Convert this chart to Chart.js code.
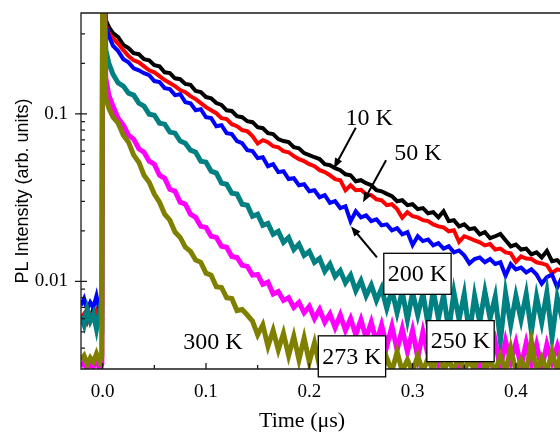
<!DOCTYPE html>
<html>
<head>
<meta charset="utf-8">
<script src="https://cdn.jsdelivr.net/npm/chart.js@4.4.1/dist/chart.umd.min.js"></script>
<style>
  html, body { margin: 0; padding: 0; background: #fff; overflow: hidden; }
  #wrap { width: 560px; height: 432px; position: relative; }
</style>
</head>
<body>
<div id="wrap"><canvas id="plChart"></canvas></div>
<script>
// time axis (µs), shared by every trace
const timeUs = [
  -0.021, -0.018, -0.015, -0.012, -0.009, -0.006, -0.003, -0.0008,
  0, 0.003, 0.006,
  0.01, 0.015, 0.02, 0.025, 0.03, 0.035, 0.04, 0.045, 0.05, 0.055,
  0.06, 0.065, 0.07, 0.075, 0.08, 0.085, 0.09, 0.095, 0.1, 0.105,
  0.11, 0.115, 0.12, 0.125, 0.13, 0.135, 0.14, 0.145, 0.15, 0.155,
  0.16, 0.165, 0.17, 0.175, 0.18, 0.185, 0.19, 0.195, 0.2, 0.205,
  0.21, 0.215, 0.22, 0.225, 0.23, 0.235, 0.24, 0.245, 0.25, 0.255,
  0.26, 0.265, 0.27, 0.275, 0.28, 0.285, 0.29, 0.295, 0.3, 0.305,
  0.31, 0.315, 0.32, 0.325, 0.33, 0.335, 0.34, 0.345, 0.35, 0.355,
  0.36, 0.365, 0.37, 0.375, 0.38, 0.385, 0.39, 0.395, 0.4, 0.405,
  0.41, 0.415, 0.42, 0.425, 0.43, 0.435, 0.44, 0.445
];

const pl10K = [
  0.0062, 0.0058, 0.0066, 0.0060, 0.0069, 0.0057, 0.0064, 0.0061,
  1.2, 0.363, 0.330,
  0.303, 0.287, 0.258, 0.247, 0.230, 0.227, 0.212, 0.209, 0.195, 0.192,
  0.177, 0.175, 0.163, 0.161, 0.151, 0.149, 0.137, 0.135, 0.126, 0.124,
  0.116, 0.113, 0.105, 0.104, 0.097, 0.0955, 0.0904, 0.0892, 0.0833, 0.0821,
  0.0767, 0.0757, 0.0707, 0.0688, 0.0678, 0.0632, 0.0623, 0.0583, 0.0567, 0.0551,
  0.0537, 0.0501, 0.0494, 0.0474, 0.0461, 0.0436, 0.043, 0.0396, 0.0402, 0.0386,
  0.0375, 0.035, 0.0345, 0.0333, 0.0323, 0.0301, 0.0305, 0.0285, 0.0289, 0.027,
  0.0274, 0.0255, 0.0259, 0.0241, 0.0262, 0.0229, 0.0232, 0.0213, 0.0219, 0.0205,
  0.0208, 0.0191, 0.0197, 0.0181, 0.0186, 0.0192, 0.0176, 0.0162, 0.0166, 0.0155,
  0.0157, 0.0145, 0.0149, 0.0139, 0.0152, 0.0132, 0.0134, 0.0125
];

const pl50K = [
  0.0060, 0.0064, 0.0057, 0.0063, 0.0059, 0.0066, 0.0058, 0.0062,
  1.2, 0.339, 0.303,
  0.283, 0.262, 0.240, 0.221, 0.209, 0.203, 0.192, 0.182, 0.177, 0.168,
  0.159, 0.153, 0.1465, 0.1386, 0.1348, 0.1276, 0.1225, 0.1158, 0.1097, 0.1052,
  0.1009, 0.0943, 0.093, 0.0868, 0.0844, 0.0799, 0.0788, 0.0736, 0.0665, 0.0697,
  0.0678, 0.0641, 0.0632, 0.0599, 0.059, 0.0559, 0.0537, 0.0522, 0.0501, 0.0487,
  0.0461, 0.0449, 0.043, 0.0408, 0.0402, 0.035, 0.0375, 0.035, 0.0352, 0.0331,
  0.0327, 0.0309, 0.0305, 0.0285, 0.0289, 0.027, 0.024, 0.0259, 0.0245, 0.0241,
  0.0232, 0.0229, 0.0219, 0.0213, 0.021, 0.0199, 0.0202, 0.0172, 0.0186, 0.0181,
  0.0176, 0.0171, 0.0164, 0.0167, 0.0155, 0.0157, 0.0149, 0.0147, 0.0131, 0.0141,
  0.0137, 0.0136, 0.013, 0.0128, 0.0125, 0.0112, 0.0118, 0.0116
];

const pl200K = [
  0.0072, 0.0079, 0.0068, 0.0075, 0.0070, 0.0082, 0.0066, 0.0085,
  1.2, 0.336, 0.291,
  0.255, 0.237, 0.212, 0.203, 0.187, 0.182, 0.175, 0.170, 0.157, 0.155,
  0.1425, 0.1405, 0.1294, 0.131, 0.1175, 0.1158, 0.1052, 0.1067, 0.0955, 0.0943,
  0.0844, 0.0856, 0.0767, 0.0757, 0.0688, 0.0668, 0.0607, 0.0599, 0.0544, 0.0551,
  0.0487, 0.0501, 0.0449, 0.0455, 0.0408, 0.0413, 0.0375, 0.038, 0.0345, 0.035,
  0.0318, 0.0327, 0.0294, 0.0301, 0.0274, 0.0281, 0.0228, 0.0262, 0.0241, 0.0248,
  0.0229, 0.0235, 0.0216, 0.0219, 0.0202, 0.0208, 0.0191, 0.0197, 0.0165, 0.0186,
  0.0174, 0.0178, 0.0164, 0.0169, 0.0157, 0.0162, 0.0149, 0.0153, 0.0143, 0.0128,
  0.0136, 0.0139, 0.013, 0.0136, 0.0127, 0.013, 0.0108, 0.0127, 0.0118, 0.0121,
  0.0113, 0.0118, 0.011, 0.0097, 0.0106, 0.011, 0.0092, 0.0107
];

const pl250K = [
  0.0062, 0.0055, 0.0068, 0.0058, 0.0064, 0.0052, 0.0066, 0.0060,
  1.2, 0.240, 0.200,
  0.172, 0.153, 0.1465, 0.133, 0.1294, 0.1158, 0.1112, 0.0996, 0.0982, 0.088,
  0.0868, 0.0778, 0.0767, 0.0688, 0.0668, 0.0607, 0.059, 0.0522, 0.0515, 0.0455,
  0.0443, 0.0386, 0.038, 0.0336, 0.0332, 0.0289, 0.0285, 0.0245, 0.0252, 0.0216,
  0.0222, 0.0191, 0.0199, 0.0171, 0.0183, 0.0155, 0.0167, 0.0143, 0.0151, 0.013,
  0.0137, 0.0115, 0.0127, 0.0107, 0.0116, 0.0098, 0.0109, 0.0088, 0.0101, 0.0082,
  0.0095, 0.0077, 0.0091, 0.0069, 0.0089, 0.0065, 0.0087, 0.0059, 0.0086, 0.0063,
  0.0085, 0.0055, 0.0088, 0.0060, 0.0083, 0.0051, 0.0086, 0.0059, 0.0084, 0.0048,
  0.0082, 0.0057, 0.0087, 0.0060, 0.0081, 0.0044, 0.0085, 0.0055, 0.0082, 0.0059,
  0.0084, 0.0050, 0.0081, 0.0057, 0.0086, 0.0046, 0.0080, 0.0059
];

const pl273K = [
  0.0031, 0.0033, 0.0030, 0.0032, 0.0031, 0.0034, 0.0030, 0.0032,
  1.2, 0.163, 0.129,
  0.111, 0.094, 0.0856, 0.0746, 0.0707, 0.0619, 0.059, 0.0522, 0.0501, 0.043,
  0.0413, 0.0355, 0.0345, 0.0297, 0.0289, 0.0252, 0.0241, 0.0213, 0.021, 0.0186,
  0.0183, 0.0162, 0.016, 0.0141, 0.0139, 0.0125, 0.0123, 0.0109, 0.011, 0.0096,
  0.0099, 0.0084, 0.0087, 0.0077, 0.008, 0.007, 0.0075, 0.0065, 0.0071, 0.006,
  0.0068, 0.0057, 0.0064, 0.0053, 0.0063, 0.0051, 0.006, 0.0048, 0.0059, 0.0046,
  0.0057, 0.0043, 0.0055, 0.0041, 0.0054, 0.0039, 0.0052, 0.0038, 0.0051, 0.0035,
  0.005, 0.0036, 0.0049, 0.0033, 0.0048, 0.0036, 0.0048, 0.0031, 0.0046, 0.0035,
  0.0046, 0.0031, 0.0045, 0.0034, 0.0044, 0.003, 0.0044, 0.0033, 0.0043, 0.0031,
  0.0043, 0.0032, 0.0042, 0.003, 0.0042, 0.0033, 0.0041, 0.0031
];

const pl300K = [
  0.0034, 0.0036, 0.0032, 0.0035, 0.0033, 0.0037, 0.0033, 0.0036,
  1.2, 0.124, 0.108,
  0.0955, 0.088, 0.0746, 0.0678, 0.0567, 0.0515, 0.043, 0.0391, 0.0332, 0.0297,
  0.0252, 0.0232, 0.0197, 0.0183, 0.016, 0.0151, 0.0134, 0.013, 0.0112, 0.0109,
  0.0093, 0.0092, 0.008, 0.0079, 0.0067, 0.0068, 0.0063, 0.0058, 0.0048, 0.0055,
  0.0041, 0.0051, 0.0039, 0.0049, 0.0036, 0.0047, 0.0034, 0.0046, 0.0033, 0.0043,
  0.0031, 0.0041, 0.003, 0.004, 0.0029, 0.0039, 0.0029, 0.0038, 0.0029, 0.0037,
  0.0029, 0.0036, 0.0029, 0.0035, 0.0029, 0.0038, 0.0029, 0.0034, 0.0029, 0.0036,
  0.0029, 0.0035, 0.0029, 0.0041, 0.0029, 0.0034, 0.0029, 0.0037, 0.0029, 0.0035,
  0.0029, 0.0043, 0.0029, 0.0034, 0.0029, 0.0036, 0.0029, 0.004, 0.0029, 0.0034,
  0.0029, 0.0044, 0.0029, 0.0035, 0.0029, 0.0038, 0.0029, 0.0042
];

const xTickValues = [0, 0.1, 0.2, 0.3, 0.4];
const xMinorValues = [0.05, 0.15, 0.25, 0.35];
const yTickValues = [0.01, 0.1];
const yMinorValues = [0.003, 0.004, 0.005, 0.006, 0.007, 0.008, 0.009,
  0.02, 0.03, 0.04, 0.05, 0.06, 0.07, 0.08, 0.09, 0.2, 0.3, 0.4];

const series = [
  { label: '10 K', data: pl10K, color: '#000000', width: 4 },
  { label: '50 K', data: pl50K, color: '#ff0000', width: 4 },
  { label: '200 K', data: pl200K, color: '#0000ff', width: 4 },
  { label: '250 K', data: pl250K, color: '#008080', width: 5 },
  { label: '273 K', data: pl273K, color: '#ff00ff', width: 5 },
  { label: '300 K', data: pl300K, color: '#808000', width: 5 }
];

// curve labels, placed in data coordinates (t, intensity)
const curveNotes = [
  { text: '10 K', at: [0.258, 0.0943], box: false, arrow: [0.245, 0.0827, 0.2238, 0.0474] },
  { text: '50 K', at: [0.3052, 0.0583], box: false, arrow: [0.2743, 0.0529, 0.252, 0.0297] },
  { text: '200 K', at: [0.3047, 0.0111], box: true, arrow: [0.2655, 0.0139, 0.2404, 0.0213] },
  { text: '250 K', at: [0.3464, 0.0044], box: true },
  { text: '273 K', at: [0.2413, 0.00357], box: true },
  { text: '300 K', at: [0.1068, 0.00439], box: false }
];

const SERIF = '"Liberation Serif", "Times New Roman", serif';

const framePlugin = {
  id: 'frame',
  afterDatasetsDraw(chart) {
    const { ctx, chartArea: a, scales: { x, y } } = chart;
    ctx.save();
    ctx.strokeStyle = '#1a1a1a';
    ctx.lineWidth = 1.3;
    ctx.beginPath();
    ctx.moveTo(a.right + 2, a.top);
    ctx.lineTo(a.left, a.top);
    ctx.lineTo(a.left, a.bottom);
    ctx.lineTo(a.right + 2, a.bottom);

    xTickValues.forEach(v => {
      const px = x.getPixelForValue(v);
      ctx.moveTo(px, a.bottom); ctx.lineTo(px, a.bottom - 6);
    });
    xMinorValues.forEach(v => {
      const px = x.getPixelForValue(v);
      ctx.moveTo(px, a.bottom); ctx.lineTo(px, a.bottom - 4);
    });
    yTickValues.forEach(v => {
      const py = y.getPixelForValue(v);
      ctx.moveTo(a.left - 6, py); ctx.lineTo(a.left + 6, py);
    });
    yMinorValues.forEach(v => {
      const py = y.getPixelForValue(v);
      ctx.moveTo(a.left, py); ctx.lineTo(a.left + 4, py);
    });
    ctx.stroke();

    // x axis title (the original figure is cropped on the right)
    ctx.fillStyle = '#000';
    ctx.font = '22px ' + SERIF;
    ctx.textAlign = 'center';
    ctx.textBaseline = 'middle';
    ctx.fillText('Time (\u03bcs)', x.getPixelForValue(0.193), 421);

    // curve labels
    ctx.font = '24px ' + SERIF;
    ctx.lineWidth = 2;
    curveNotes.forEach(n => {
      if (n.arrow) {
        const x0 = x.getPixelForValue(n.arrow[0]), y0 = y.getPixelForValue(n.arrow[1]);
        const x1 = x.getPixelForValue(n.arrow[2]), y1 = y.getPixelForValue(n.arrow[3]);
        const ang = Math.atan2(y1 - y0, x1 - x0);
        ctx.strokeStyle = '#000';
        ctx.beginPath();
        ctx.moveTo(x0, y0);
        ctx.lineTo(x1 - 6 * Math.cos(ang), y1 - 6 * Math.sin(ang));
        ctx.stroke();
        ctx.beginPath();
        ctx.moveTo(x1, y1);
        ctx.lineTo(x1 - 10 * Math.cos(ang) + 4 * Math.sin(ang), y1 - 10 * Math.sin(ang) - 4 * Math.cos(ang));
        ctx.lineTo(x1 - 10 * Math.cos(ang) - 4 * Math.sin(ang), y1 - 10 * Math.sin(ang) + 4 * Math.cos(ang));
        ctx.closePath();
        ctx.fill();
      }
      const cx = x.getPixelForValue(n.at[0]);
      const cy = y.getPixelForValue(n.at[1]);
      if (n.box) {
        const w = ctx.measureText(n.text).width + 8;
        ctx.fillStyle = '#fff';
        ctx.fillRect(cx - w / 2, cy - 20.5, w, 41);
        ctx.strokeStyle = '#000';
        ctx.lineWidth = 1.3;
        ctx.strokeRect(cx - w / 2, cy - 20.5, w, 41);
        ctx.lineWidth = 2;
      }
      ctx.fillStyle = '#000';
      ctx.fillText(n.text, cx, cy + 1);
    });
    ctx.restore();
  }
};

new Chart(document.getElementById('plChart'), {
  type: 'line',
  data: {
    datasets: series.map((s, i) => ({
      label: s.label,
      data: timeUs.map((t, k) => ({ x: t, y: s.data[k] })),
      borderColor: s.color,
      backgroundColor: s.color,
      borderWidth: s.width,
      pointRadius: 0,
      tension: 0,
      fill: false,
      clip: 0,
      order: series.length - i
    }))
  },
  options: {
    responsive: true,
    maintainAspectRatio: false,
    animation: false,
    events: [],
    layout: { padding: { top: 13, right: 0, bottom: 0, left: 0 } },
    plugins: { legend: { display: false }, tooltip: { enabled: false } },
    scales: {
      x: {
        type: 'linear',
        min: -0.021,
        max: 0.4427,
        grid: { display: false, drawTicks: false },
        border: { display: false },
        afterBuildTicks: s => { s.ticks = xTickValues.map(v => ({ value: v })); },
        afterFit: s => { s.height = 63; s.paddingLeft = 0; s.paddingRight = 0; },
        ticks: {
          padding: 12,
          autoSkip: false,
          maxRotation: 0,
          color: '#000',
          font: { family: SERIF, size: 19 },
          callback: v => v.toFixed(1)
        }
      },
      y: {
        type: 'logarithmic',
        min: 0.003,
        max: 0.4,
        grid: { display: false, drawTicks: false },
        border: { display: false },
        afterBuildTicks: s => { s.ticks = yTickValues.map(v => ({ value: v })); },
        afterFit: s => { s.width = 81; s.paddingTop = 0; s.paddingBottom = 0; },
        ticks: {
          padding: 13,
          color: '#000',
          font: { family: SERIF, size: 19 },
          callback: v => String(v)
        },
        title: {
          display: true,
          text: 'PL Intensity (arb. units)',
          color: '#000',
          font: { family: '"Liberation Sans", Arial, sans-serif', size: 18 },
          padding: { top: 12, bottom: 0 }
        }
      }
    }
  },
  plugins: [framePlugin]
});
</script>
</body>
</html>
